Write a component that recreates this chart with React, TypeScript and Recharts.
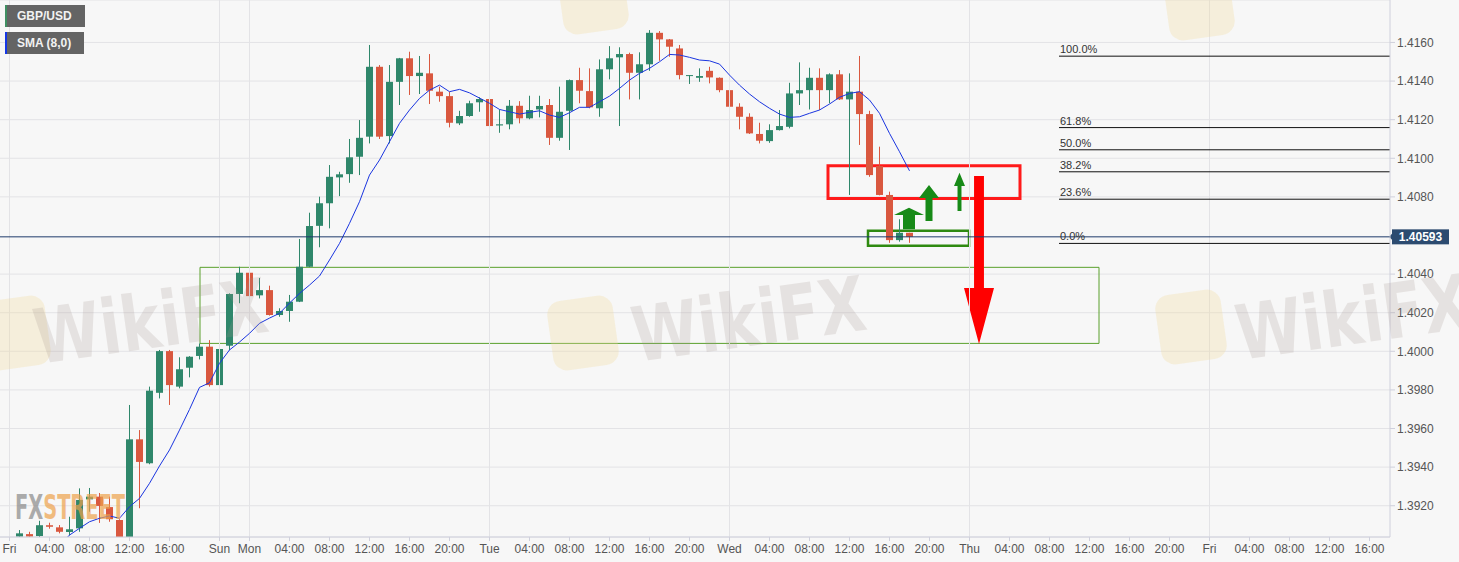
import React from 'react';
import {
  ComposedChart,
  Bar,
  Line,
  XAxis,
  YAxis,
  CartesianGrid,
  ReferenceLine,
  ReferenceArea,
} from 'recharts';

// hourly GBP/USD candles, slot 1 = Fri 01:00 (weekend hours removed)
const opens = [
  1.3904, 1.39053, 1.39043, 1.39099, 1.39088, 1.39064, 1.39083, 1.39233, 1.39247, 1.39193,
  1.39126, 1.3899, 1.39544, 1.3942, 1.39785, 1.40001, 1.39817, 1.39915, 1.39976, 1.40024,
  1.39825, 1.40029, 1.40297, 1.40407, 1.4029, 1.40317, 1.40188, 1.40209, 1.40257, 1.40438,
  1.4065, 1.40767, 1.40901, 1.40918, 1.41008, 1.41112, 1.41474, 1.41115, 1.41396, 1.41518,
  1.41426, 1.4144, 1.41345, 1.41322, 1.41181, 1.41219, 1.4129, 1.41307, 1.4117, 1.41176,
  1.41272, 1.41207, 1.41253, 1.41276, 1.41106, 1.41246, 1.41405, 1.41348, 1.41259, 1.41461,
  1.41523, 1.4154, 1.41443, 1.41487, 1.4165, 1.41616, 1.41569, 1.41426, 1.41417, 1.41453,
  1.41417, 1.41353, 1.41267, 1.41215, 1.41126, 1.41089, 1.41146, 1.41163, 1.41336, 1.41353,
  1.41417, 1.41353, 1.41435, 1.41305, 1.41345, 1.41229, 1.4096, 1.4081, 1.40576, 1.40614,
];
const highs = [
  1.39074, 1.39065, 1.39122, 1.39112, 1.391, 1.39143, 1.3929, 1.39292, 1.39266, 1.39247,
  1.3913, 1.39722, 1.39592, 1.39817, 1.40007, 1.40007, 1.39969, 1.39975, 1.40041, 1.40058,
  1.40062, 1.403, 1.40438, 1.40412, 1.4038, 1.4034, 1.40223, 1.40292, 1.40582, 1.40718,
  1.40801, 1.40965, 1.4093, 1.411, 1.41198, 1.41587, 1.41483, 1.41483, 1.4152, 1.41552,
  1.4153, 1.4154, 1.41371, 1.41345, 1.41246, 1.41298, 1.41316, 1.41348, 1.41253, 1.41302,
  1.41296, 1.41324, 1.41324, 1.41307, 1.41371, 1.41408, 1.41469, 1.41466, 1.41512, 1.41581,
  1.41575, 1.41547, 1.41549, 1.41664, 1.41659, 1.41618, 1.41587, 1.41431, 1.41466, 1.41474,
  1.41419, 1.41422, 1.41285, 1.41233, 1.41184, 1.41176, 1.4125, 1.41391, 1.41497, 1.41469,
  1.41466, 1.4144, 1.41457, 1.4144, 1.4153, 1.41246, 1.4106, 1.40827, 1.40684, 1.40614,
];
const lows = [
  1.3902, 1.3902, 1.3902, 1.39081, 1.39057, 1.39047, 1.39065, 1.39169, 1.39111, 1.39117,
  1.3895, 1.3895, 1.39187, 1.39415, 1.39756, 1.39722, 1.39808, 1.39865, 1.39958, 1.39817,
  1.39822, 1.40007, 1.40249, 1.4028, 1.40274, 1.40185, 1.40179, 1.40153, 1.40255, 1.40436,
  1.40539, 1.40637, 1.40804, 1.40873, 1.40913, 1.41077, 1.411, 1.41077, 1.41276, 1.41328,
  1.41333, 1.41281, 1.41293, 1.4116, 1.41172, 1.41215, 1.41241, 1.41132, 1.41132, 1.4115,
  1.41181, 1.41202, 1.41212, 1.41069, 1.41091, 1.41043, 1.41285, 1.41259, 1.41215, 1.41409,
  1.41167, 1.41305, 1.41305, 1.41453, 1.41505, 1.41526, 1.41409, 1.41385, 1.41396, 1.41388,
  1.41342, 1.41224, 1.4115, 1.41126, 1.41077, 1.4108, 1.41144, 1.41155, 1.41276, 1.41253,
  1.4125, 1.41285, 1.41302, 1.4081, 1.41069, 1.40904, 1.40808, 1.40562, 1.40568, 1.40562,
];
const closes = [
  1.39057, 1.3904, 1.39099, 1.39091, 1.39065, 1.39078, 1.3923, 1.39247, 1.39199, 1.3913,
  1.3898, 1.39544, 1.39427, 1.39796, 1.40001, 1.39825, 1.39907, 1.39972, 1.40024, 1.39825,
  1.40012, 1.40297, 1.40407, 1.40286, 1.40317, 1.40188, 1.40209, 1.40257, 1.40438, 1.40649,
  1.40767, 1.40904, 1.40917, 1.41005, 1.41106, 1.41474, 1.41112, 1.41396, 1.41518, 1.41426,
  1.41443, 1.4135, 1.41322, 1.41184, 1.41219, 1.41285, 1.41307, 1.41167, 1.41176, 1.41272,
  1.41207, 1.4125, 1.41271, 1.41106, 1.41241, 1.41405, 1.4135, 1.41264, 1.41461, 1.41518,
  1.4154, 1.41443, 1.41487, 1.4165, 1.41616, 1.41578, 1.41431, 1.41431, 1.41426, 1.41419,
  1.41353, 1.41267, 1.41215, 1.41129, 1.41091, 1.41146, 1.41167, 1.41336, 1.41353, 1.41417,
  1.41353, 1.41435, 1.41305, 1.41345, 1.41229, 1.40913, 1.4081, 1.40576, 1.40614, 1.40593,
];
const sma8 = [
  null, null, null, null, 1.38995, 1.39048, 1.39083, 1.39117, 1.39135, 1.39147,
  1.39135, 1.39195, 1.39238, 1.39316, 1.39406, 1.39489, 1.39592, 1.39699, 1.39813, 1.39837,
  1.39938, 1.40007, 1.40048, 1.40093, 1.40145, 1.40172, 1.40197, 1.4025, 1.403, 1.40343,
  1.4039, 1.40473, 1.40559, 1.40663, 1.40775, 1.40913, 1.40991, 1.41086, 1.41181, 1.4125,
  1.4131, 1.41353, 1.41379, 1.41345, 1.41357, 1.41339, 1.41312, 1.41285, 1.41253, 1.41241,
  1.41229, 1.41238, 1.41246, 1.41224, 1.41212, 1.41236, 1.41264, 1.41264, 1.41293, 1.41322,
  1.41362, 1.41405, 1.4144, 1.41466, 1.415, 1.41538, 1.41535, 1.41523, 1.41509, 1.41505,
  1.41488, 1.41431, 1.41379, 1.41333, 1.41293, 1.41259, 1.41229, 1.41212, 1.41215, 1.41233,
  1.4125, 1.41281, 1.41316, 1.41336, 1.41345, 1.41302, 1.41233, 1.41129, 1.41034, 1.40935,
];

const tickSlots = [
  0, 4, 8, 12, 16, 21, 24, 28, 32, 36, 40, 44, 48, 52, 56, 60, 64, 68, 72, 76, 80, 84, 88, 92,
  96, 100, 104, 108, 112, 116, 120, 124, 128, 132, 136,
];
const tickLabels = [
  'Fri', '04:00', '08:00', '12:00', '16:00', 'Sun', 'Mon', '04:00', '08:00', '12:00', '16:00', '20:00',
  'Tue', '04:00', '08:00', '12:00', '16:00', '20:00', 'Wed', '04:00', '08:00', '12:00', '16:00', '20:00',
  'Thu', '04:00', '08:00', '12:00', '16:00', '20:00', 'Fri', '04:00', '08:00', '12:00', '16:00',
];
const daySlots = [0, 21, 24, 48, 72, 96, 120];
// 1.4060 is hidden behind the last-price tag
const priceTicks = [1.392, 1.394, 1.396, 1.398, 1.4, 1.402, 1.404, 1.408, 1.41, 1.412, 1.414, 1.416];

const lastPrice = 1.40593;
const fibLabels = ['100.0%', '61.8%', '50.0%', '38.2%', '23.6%', '0.0%'];
const fibPrices = [1.41529, 1.41159, 1.41044, 1.4093, 1.40788, 1.40559];
const fibStart = 104.95;

// drawn zones: [slotFrom, slotTo, priceLow, priceHigh]
const supportZone = [19.05, 108.95, 1.40041, 1.40435];
const resistZone = [81.85, 101.05, 1.40792, 1.40961];
const lowZone = [85.85, 95.95, 1.40547, 1.40625];

// arrows: slot range, price bottom, price top, head base, shaft share, direction
const arrowFrom = [88.45, 90.95, 94.45, 95.45];
const arrowTo = [91.45, 92.95, 95.55, 98.45];
const arrowLow = [1.40632, 1.40675, 1.40727, 1.40038];
const arrowHigh = [1.40744, 1.40861, 1.40925, 1.40908];
const arrowHead = [1.40706, 1.40794, 1.40856, 1.40328];
const arrowShaft = [0.4, 0.35, 0.36, 0.33];
const arrowUp = [true, true, true, false];

const W = 1459;
const H = 562;
const GREEN = '#2f876b';
const RED = '#d9583f';
const AXIS = '#cfd0dc';
const FONT = '"Liberation Sans", Arial, sans-serif';

const data = opens.map((o, k) => ({
  slot: k + 1,
  open: o,
  high: highs[k],
  low: lows[k],
  close: closes[k],
  sma: sma8[k],
}));

function Candle(props: any) {
  const { x, y, width, height, payload } = props;
  if (x == null || y == null || !payload) return null;
  const { open, close, high, low } = payload;
  const color = close >= open ? GREEN : RED;
  const top = height >= 0 ? y : y + height;
  const h = Math.abs(height);
  const k = high > low ? h / (high - low) : 0;
  const cx = Math.round(x + width / 2) + 0.5;
  const yOf = (v: number) => top + (high - v) * k;
  const bTop = yOf(Math.max(open, close));
  const bBot = yOf(Math.min(open, close));
  return (
    <g>
      <line x1={cx} x2={cx} y1={top} y2={top + Math.max(h, 1)} stroke={color} strokeWidth={1} />
      <rect x={cx - 3.5} y={bTop} width={7} height={Math.max(1, bBot - bTop)} fill={color} />
    </g>
  );
}

function Arrow(props: any) {
  const { x, y, width, height, n } = props;
  if (x == null) return null;
  const up = arrowUp[n];
  const hf = up
    ? (arrowHigh[n] - arrowHead[n]) / (arrowHigh[n] - arrowLow[n])
    : (arrowHead[n] - arrowLow[n]) / (arrowHigh[n] - arrowLow[n]);
  const cx = x + width / 2;
  const sw = (arrowShaft[n] * width) / 2;
  let pts: number[][];
  if (up) {
    const hb = y + hf * height;
    pts = [[cx, y], [x + width, hb], [cx + sw, hb], [cx + sw, y + height], [cx - sw, y + height], [cx - sw, hb], [x, hb]];
  } else {
    const hb = y + height - hf * height;
    pts = [[cx, y + height], [x, hb], [cx - sw, hb], [cx - sw, y], [cx + sw, y], [cx + sw, hb], [x + width, hb]];
  }
  return <polygon points={pts.map((p) => p.join(',')).join(' ')} fill={up ? '#178a17' : '#ff0000'} />;
}

function PriceTag(props: any) {
  const vb = props.viewBox || {};
  const right = (vb.x || 0) + (vb.width || 0);
  const yy = vb.y || 0;
  return (
    <g>
      <polygon points={`${right - 1},${yy} ${right + 3},${yy - 4} ${right + 3},${yy + 4}`} fill="#2c4b70" />
      <rect x={right + 2} y={yy - 7.5} width={57} height={15} fill="#2c4b70" />
      <text x={right + 30.5} y={yy + 4.5} textAnchor="middle" fill="#fff" fontSize={12} fontWeight="bold" fontFamily={FONT}>
        {lastPrice.toFixed(5)}
      </text>
    </g>
  );
}

function fibLabel(text: string) {
  return (props: any) => {
    const vb = props.viewBox || {};
    return (
      <text x={(vb.x || 0) + 1} y={(vb.y || 0) - 3} fill="#333" fontSize={11} fontFamily={FONT}>
        {text}
      </text>
    );
  };
}

const wikiSpots = [
  { lx: -18, ly: 298, tx: 38, ty: 364 },
  { lx: 550, ly: 298, tx: 636, ty: 362 },
  { lx: 1158, ly: 292, tx: 1240, ty: 360 },
];
const topLogos = [
  { lx: 560, ly: -38 },
  { lx: 1166, ly: -32 },
];

function Watermarks() {
  return (
    <svg width={W} height={H} style={{ position: 'absolute', left: 0, top: 0, pointerEvents: 'none' }}>
      {[...wikiSpots, ...topLogos].map((s, i) => (
        <rect key={'l' + i} x={s.lx} y={s.ly} width={66} height={70} rx={14} fill="#f3dc9a" opacity={0.3}
          transform={`rotate(-8 ${s.lx + 33} ${s.ly + 35})`} />
      ))}
      {wikiSpots.map((s, i) => (
        <text key={'t' + i} x={0} y={0} transform={`translate(${s.tx} ${s.ty}) rotate(-8)`}
          fontSize={76} fontWeight={900} fontFamily='"DejaVu Sans", sans-serif' fill="#a3938c" opacity={0.2}
          textLength={235} lengthAdjust="spacingAndGlyphs">
          WikiFX
        </text>
      ))}
      <text x={15} y={519} fontSize={34} fontWeight="bold" fontFamily='"DejaVu Sans Condensed", "DejaVu Sans", sans-serif'
        textLength={110} lengthAdjust="spacingAndGlyphs" opacity={0.7}>
        <tspan fill="#8a8a8a">FX</tspan>
        <tspan fill="#eea24c">STREET</tspan>
      </text>
    </svg>
  );
}

const legendBox: React.CSSProperties = {
  position: 'absolute',
  left: 5,
  height: 22,
  background: '#646464',
  color: '#f2f2f2',
  font: `bold 12px ${FONT}`,
  lineHeight: '22px',
  paddingLeft: 10,
  boxSizing: 'border-box',
};

export default function App() {
  return (
    <div style={{ position: 'absolute', left: 0, top: 0, width: W, height: H, background: '#f7f7f7', overflow: 'hidden' }}>
      <ComposedChart width={W} height={H} data={data} margin={{ top: 0, right: 0, bottom: 0, left: 0 }}>
        <CartesianGrid vertical={false} stroke="#e3e3e6" />
        <XAxis
          type="number"
          dataKey="slot"
          domain={[-0.95, 138.05]}
          allowDataOverflow
          ticks={tickSlots}
          interval={0}
          tickFormatter={(v: number) => tickLabels[tickSlots.indexOf(v)] ?? ''}
          height={25}
          stroke={AXIS}
          tickSize={4}
          tickMargin={3}
          tick={{ fill: '#555', fontSize: 12, fontFamily: FONT }}
        />
        <YAxis
          orientation="right"
          domain={[1.39038, 1.4182]}
          allowDataOverflow
          ticks={priceTicks}
          interval={0}
          tickFormatter={(v: number) => v.toFixed(4)}
          width={69}
          stroke={AXIS}
          tickSize={5}
          tickMargin={2}
          tick={{ fill: '#555', fontSize: 12, fontFamily: FONT }}
        />
        {daySlots.map((s) => (
          <ReferenceLine key={'d' + s} x={s} stroke="#e3e3e6" />
        ))}
        <ReferenceArea
          x1={supportZone[0]} x2={supportZone[1]} y1={supportZone[2]} y2={supportZone[3]}
          fill="none" fillOpacity={0} stroke="#5aa02c" strokeWidth={1}
        />
        <Bar dataKey={(d: any) => [d.low, d.high]} shape={<Candle />} barSize={9} isAnimationActive={false} />
        <Line type="linear" dataKey="sma" stroke="#1a35e0" strokeWidth={1} dot={false} isAnimationActive={false} />
        <ReferenceLine y={lastPrice} stroke="#1f3b6a" strokeWidth={1} label={(p: any) => <PriceTag {...p} />} />
        {fibPrices.map((v, i) => (
          <ReferenceLine
            key={'f' + i}
            segment={[{ x: fibStart, y: v }, { x: 138.05, y: v }]}
            stroke="#111"
            strokeWidth={1}
            label={fibLabel(fibLabels[i])}
          />
        ))}
        <ReferenceArea
          x1={resistZone[0]} x2={resistZone[1]} y1={resistZone[2]} y2={resistZone[3]}
          fill="none" fillOpacity={0} stroke="#ff1a1a" strokeWidth={3}
        />
        <ReferenceArea
          x1={lowZone[0]} x2={lowZone[1]} y1={lowZone[2]} y2={lowZone[3]}
          fill="none" fillOpacity={0} stroke="#2f8a10" strokeWidth={2.5}
        />
        {arrowFrom.map((a, n) => (
          <ReferenceArea
            key={'a' + n}
            x1={a} x2={arrowTo[n]} y1={arrowLow[n]} y2={arrowHigh[n]}
            shape={(p: any) => <Arrow {...p} n={n} />}
          />
        ))}
      </ComposedChart>
      <Watermarks />
      <div style={{ ...legendBox, top: 5, width: 80, borderLeft: '2px solid #3f8f62' }}>GBP/USD</div>
      <div style={{ ...legendBox, top: 32, width: 79, borderLeft: '2px solid #1537e6' }}>SMA (8,0)</div>
    </div>
  );
}
